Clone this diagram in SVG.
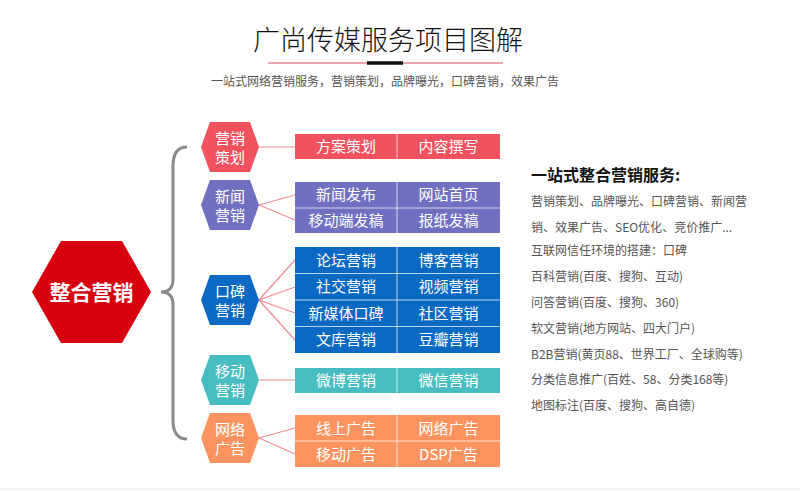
<svg xmlns="http://www.w3.org/2000/svg" width="800" height="491" viewBox="0 0 800 491">
<style>
text{font-family:"Noto Sans CJK SC","Liberation Sans",sans-serif;}
.hx{fill:#fff;font-size:15px;text-anchor:middle;}
.bx{fill:#fff;font-size:15px;text-anchor:middle;}
.dv{stroke:#fff;stroke-opacity:0.7;stroke-width:1;}
.cn{stroke:#f38b96;stroke-width:1.2;fill:none;}
.rt{fill:#555;font-size:12px;}
</style>
<rect width="800" height="491" fill="#fff"/>
<g id="title">
<text x="388" y="50" font-size="27" text-anchor="middle" fill="#111" font-weight="300">广尚传媒服务项目图解</text>
<line x1="268" y1="63" x2="503" y2="63" stroke="#eba4ad" stroke-width="2"/>
<line x1="367" y1="63" x2="403" y2="63" stroke="#111" stroke-width="3.5"/>
<text x="385" y="86" font-size="12" text-anchor="middle" fill="#555">一站式网络营销服务，营销策划，品牌曝光，口碑营销，效果广告</text>
</g>
<g id="connectors">
<path d="M187,147 Q173,147 173,166 L173,279 Q173,292 161,292 Q173,292 173,305 L173,420 Q173,439 187,439" fill="none" stroke="#8a8a8a" stroke-width="3"/>
<line class="cn" x1="259" y1="147" x2="295" y2="147"/>
<line class="cn" x1="259" y1="205" x2="295" y2="195"/>
<line class="cn" x1="259" y1="205" x2="295" y2="220"/>
<line class="cn" x1="259" y1="300" x2="295" y2="260"/>
<line class="cn" x1="259" y1="300" x2="295" y2="287"/>
<line class="cn" x1="259" y1="300" x2="295" y2="313"/>
<line class="cn" x1="259" y1="300" x2="295" y2="340"/>
<line class="cn" x1="259" y1="380" x2="295" y2="380"/>
<line class="cn" x1="259" y1="438" x2="295" y2="428"/>
<line class="cn" x1="259" y1="438" x2="295" y2="454"/>
</g>
<g id="main">
<polygon points="32,292 61,241 122,241 151,292 122,343 61,343" fill="#d7000f"/>
<text x="91.5" y="299.5" font-size="21" font-weight="bold" fill="#fff" text-anchor="middle">整合营销</text>
</g>
<g id="hex-plan">
<polygon points="201,147 210,122 250,122 259,147 250,172 210,172" fill="#f2515e"/>
<text class="hx" x="230" y="144">营销</text>
<text class="hx" x="230" y="163">策划</text>
</g>
<g id="hex-news">
<polygon points="201,205 210,180 250,180 259,205 250,230 210,230" fill="#7070c2"/>
<text class="hx" x="230" y="202">新闻</text>
<text class="hx" x="230" y="221">营销</text>
</g>
<g id="hex-wom">
<polygon points="201,300 210,275 250,275 259,300 250,325 210,325" fill="#0a69c2"/>
<text class="hx" x="230" y="297">口碑</text>
<text class="hx" x="230" y="316">营销</text>
</g>
<g id="hex-mobile">
<polygon points="201,380 210,355 250,355 259,380 250,405 210,405" fill="#47bdc1"/>
<text class="hx" x="230" y="377">移动</text>
<text class="hx" x="230" y="396">营销</text>
</g>
<g id="hex-ads">
<polygon points="201,438 210,413 250,413 259,438 250,463 210,463" fill="#fd9460"/>
<text class="hx" x="230" y="435">网络</text>
<text class="hx" x="230" y="454">广告</text>
</g>
<g id="box-plan">
<rect x="295" y="134" width="205" height="25" fill="#f2515e"/>
<line class="dv" x1="397" y1="134" x2="397" y2="159"/>
<text class="bx" x="346" y="152">方案策划</text>
<text class="bx" x="448.5" y="152">内容撰写</text>
</g>
<g id="box-news">
<rect x="295" y="182" width="205" height="51" fill="#7070c2"/>
<line class="dv" x1="397" y1="182" x2="397" y2="233"/>
<line class="dv" x1="295" y1="208" x2="500" y2="208"/>
<text class="bx" x="346" y="200">新闻发布</text>
<text class="bx" x="448.5" y="200">网站首页</text>
<text class="bx" x="346" y="226">移动端发稿</text>
<text class="bx" x="448.5" y="226">报纸发稿</text>
</g>
<g id="box-wom">
<rect x="295" y="247" width="205" height="106" fill="#0a69c2"/>
<line class="dv" x1="397" y1="247" x2="397" y2="353"/>
<line class="dv" x1="295" y1="273.5" x2="500" y2="273.5"/>
<line class="dv" x1="295" y1="300" x2="500" y2="300"/>
<line class="dv" x1="295" y1="326.5" x2="500" y2="326.5"/>
<text class="bx" x="346" y="265.5">论坛营销</text>
<text class="bx" x="448.5" y="265.5">博客营销</text>
<text class="bx" x="346" y="292">社交营销</text>
<text class="bx" x="448.5" y="292">视频营销</text>
<text class="bx" x="346" y="318.5">新媒体口碑</text>
<text class="bx" x="448.5" y="318.5">社区营销</text>
<text class="bx" x="346" y="345">文库营销</text>
<text class="bx" x="448.5" y="345">豆瓣营销</text>
</g>
<g id="box-mobile">
<rect x="295" y="368" width="205" height="25" fill="#47bdc1"/>
<line class="dv" x1="397" y1="368" x2="397" y2="393"/>
<text class="bx" x="346" y="386">微博营销</text>
<text class="bx" x="448.5" y="386">微信营销</text>
</g>
<g id="box-ads">
<rect x="295" y="415" width="205" height="52" fill="#fd9460"/>
<line class="dv" x1="397" y1="415" x2="397" y2="467"/>
<line class="dv" x1="295" y1="441" x2="500" y2="441"/>
<text class="bx" x="346" y="433.5">线上广告</text>
<text class="bx" x="448.5" y="433.5">网络广告</text>
<text class="bx" x="346" y="459.5">移动广告</text>
<text class="bx" x="448.5" y="459.5">DSP广告</text>
</g>
<g id="services">
<text x="531" y="181" font-size="16" font-weight="bold" fill="#111">一站式整合营销服务:</text>
<text class="rt" x="531" y="206">营销策划、品牌曝光、口碑营销、新闻营</text>
<text class="rt" x="531" y="232">销、效果广告、SEO优化、竞价推广...</text>
<text class="rt" x="531" y="255">互联网信任环境的搭建：口碑</text>
<text class="rt" x="531" y="281">百科营销(百度、搜狗、互动)</text>
<text class="rt" x="531" y="307">问答营销(百度、搜狗、360)</text>
<text class="rt" x="531" y="333">软文营销(地方网站、四大门户)</text>
<text class="rt" x="531" y="359">B2B营销(黄页88、世界工厂、全球购等)</text>
<text class="rt" x="531" y="384">分类信息推广(百姓、58、分类168等)</text>
<text class="rt" x="531" y="410">地图标注(百度、搜狗、高自德)</text>
</g>
<line x1="0" y1="489" x2="800" y2="489" stroke="#e6e6e6" stroke-width="1"/>
</svg>
